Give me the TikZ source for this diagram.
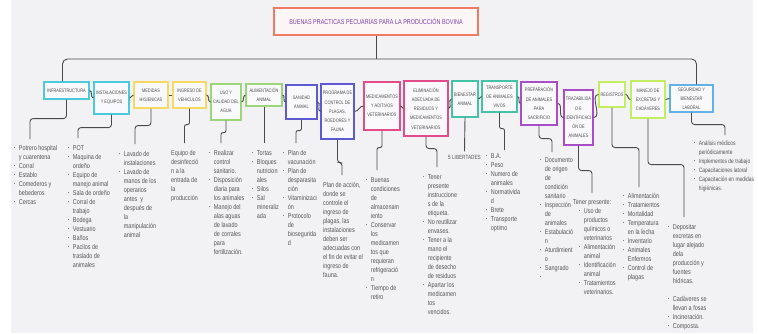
\documentclass[tikz,border=0pt]{standalone}
\usepackage{fontspec}
\setmainfont{Liberation Sans}[FakeStretch=0.78]
\definecolor{bgpanel}{HTML}{F2F2F4}
\definecolor{boxfill}{HTML}{F9F9FB}
\definecolor{titlefill}{HTML}{FCF6F6}
\definecolor{titleline}{HTML}{EE7B62}
\definecolor{titletxt}{HTML}{7E3FB0}
\definecolor{cyanb}{HTML}{4CC9DA}
\definecolor{yellowb}{HTML}{F7D963}
\definecolor{greenb}{HTML}{9BD67A}
\definecolor{blueb}{HTML}{5E5BD2}
\definecolor{pinkb}{HTML}{E24C8A}
\definecolor{tealb}{HTML}{46C2A6}
\definecolor{purpleb}{HTML}{A84FC8}
\definecolor{limeb}{HTML}{C3EE62}
\definecolor{skyb}{HTML}{62B2E8}
\definecolor{boxtxt}{HTML}{4D4D4D}
\definecolor{lsttxt}{HTML}{555555}
\definecolor{linkgray}{HTML}{4A4A4A}
\newcommand{\bu}{\raisebox{0.7pt}{\fontsize{4.5}{5}\selectfont\textbullet}}
\newcommand{\blist}[1]{\begin{tabular}{@{}l@{\hspace{3.5pt}}l@{}}#1\end{tabular}}
\newcommand{\plist}[1]{\begin{tabular}{@{}l@{}}#1\end{tabular}}
\begin{document}
\begin{tikzpicture}[x=1pt, y=-1pt,
  box/.style={draw=#1, line width=1.1pt, fill=boxfill, inner sep=0pt, align=center,
    text=boxtxt, font=\fontsize{5}{9.2}\selectfont},
  lst/.style={anchor=north west, inner sep=0pt, text=lsttxt, font=\fontsize{7}{9}\selectfont},
  link/.style={draw=linkgray, line width=0.9pt, rounded corners=3pt}]
\useasboundingbox (0,0) rectangle (758,333);
\fill[bgpanel] (11,0) rectangle (753,333);

% title and the row of topics
\node[draw=titleline, line width=1.2pt, fill=titlefill, minimum width=204, minimum height=27,
  inner sep=0pt, text=titletxt, font=\fontsize{7}{9}\selectfont] (title) at (376,21.5)
  {BUENAS PRACTICAS PECUARIAS PARA LA PRODUCCIÓN BOVINA};
\coordinate (hub) at (376,59);
\node[box=cyanb, minimum width=45, minimum height=17] (infra) at (66.5,90.5) {INFRAESTRUCTURA};
\node[box=cyanb, minimum width=35, minimum height=32] (instal) at (111.5,98) {INSTALACIONES\\Y EQUIPOS};
\node[box=yellowb, minimum width=34, minimum height=26] (medidas) at (151,95) {MEDIDAS\\HIGIENICAS};
\node[box=yellowb, minimum width=33, minimum height=26] (ingreso) at (189.5,95) {INGRESO DE\\VEHICULOS};
\node[box=greenb, minimum width=30, minimum height=36] (uso) at (226,102) {USO Y\\CALIDAD DEL\\AGUA};
\node[box=greenb, minimum width=36, minimum height=22] (alim) at (264,95) {ALIMENTACIÓN\\ANIMAL};
\node[box=blueb, minimum width=31, minimum height=34] (sanidad) at (301.5,102) {SANIDAD\\ANIMAL};
\node[box=blueb, minimum width=33, minimum height=55] (programa) at (337.5,111.5) {PROGRAMA DE\\CONTROL DE\\PLAGAS,\\ROEDORES Y\\FAUNA};
\node[box=pinkb, minimum width=36, minimum height=48] (medic) at (382,106) {MEDICAMENTOS\\Y ADITIVOS\\VETERINARIOS};
\node[box=pinkb, minimum width=44, minimum height=55] (elim) at (426,108.5) {ELIMINACIÓN\\ADECUADA DE\\RESIDUOS Y\\MEDICAMENTOS\\VETERINARIOS};
\node[box=tealb, minimum width=26, minimum height=36] (bienestar) at (465,99) {BIENESTAR\\ANIMAL};
\node[box=tealb, minimum width=35, minimum height=31] (transp) at (499.5,96.5) {TRANSPORTE\\DE ANIMALES\\VIVOS};
\node[box=purpleb, minimum width=36, minimum height=43] (prep) at (539,103.5) {PREPARACIÓN\\DE ANIMALES\\PARA\\SACRIFICIO};
\node[box=purpleb, minimum width=29, minimum height=55] (traz) at (578.5,117.5) {TRAZABILIDA\\D E\\IDENTIFICACI\\ÓN DE\\ANIMALES};
\node[box=limeb, minimum width=26, minimum height=25] (regis) at (612,94.5) {REGISTROS};
\node[box=limeb, minimum width=34, minimum height=37] (manejo) at (648,99.5) {MANEJO DE\\EXCRETAS Y\\CADÁVERES};
\node[box=skyb, minimum width=43, minimum height=27] (segur) at (691.5,98.5) {SEGURIDAD Y\\BIENESTAR\\LABORAL};

\draw[link] (title.south) -- (hub);
\draw[link, rounded corners=5pt] ([xshift=-4pt]infra.north) |- (hub) -| ([xshift=5pt]segur.north);
\draw[link] (infra.east) to[out=0, in=180] (instal.west);
\draw[link] (instal.east) to[out=0, in=180] (medidas.west);
\draw[link] (medidas.east) to[out=0, in=180] (ingreso.west);
\draw[link] (ingreso.east) to[out=0, in=180] (uso.west);
\draw[link] (uso.east) to[out=0, in=180] (alim.west);
\draw[link] (alim.east) to[out=0, in=180] (sanidad.west);
\draw[link] (sanidad.east) to[out=0, in=180] (programa.west);
\draw[link] (programa.east) to[out=0, in=180] (medic.west);
\draw[link] (medic.east) to[out=0, in=180] (elim.west);
\draw[link] (elim.east) to[out=0, in=180] (bienestar.west);
\draw[link] (bienestar.east) to[out=0, in=180] (transp.west);
\draw[link] (transp.east) to[out=0, in=180] (prep.west);
\draw[link] (prep.east) to[out=0, in=180] (traz.west);
\draw[link] (traz.east) to[out=0, in=180] (regis.west);
\draw[link] (regis.east) to[out=0, in=180] (manejo.west);
\draw[link] (manejo.east) to[out=0, in=180] (segur.west);

% lists under each topic
\node[lst] (la) at (14,144) {\blist{\bu & Potrero hospital\\ & y cuarentena\\ \bu & Corral\\ \bu & Establo\\
  \bu & Comederos y\\ & bebederos\\ \bu & Cercas}};
\node[lst] (lb) at (68,144) {\blist{\bu & POT\\ \bu & Maquina de\\ & ordeño\\ \bu & Equipo de\\ & manejo animal\\
  \bu & Sala de ordeño\\ \bu & Corral de\\ & trabajo\\ \bu & Bodega\\ \bu & Vestuario\\ \bu & Baños\\
  \bu & Pacilos de\\ & traslado de\\ & animales}};
\node[lst] (lc) at (119,150) {\blist{\bu & Lavado de\\ & instalaciones\\ \bu & Lavado de\\ & manos de los\\
  & operarios\\ & antes~ y\\ & después de\\ & la\\ & manipulación\\ & animal}};
\node[lst] (ld) at (171,148.5) {\plist{Equipo de\\ desinfecció\\ n a la\\ entrada de\\ la\\ producción}};
\node[lst] (le) at (209,148.5) {\blist{\bu & Realizar\\ & control\\ & sanitario.\\ \bu & Disposición\\ & diaria para\\
  & los animales\\ \bu & Manejo del\\ & alas aguas\\ & de lavado\\ & de corrales\\ & para\\ & fertilización.}};
\node[lst] (lf) at (252,148.5) {\blist{\bu & Tortas\\ \bu & Bloques\\ & nutricion\\ & ales\\ \bu & Silos\\
  \bu & Sal\\ & mineraliz\\ & ada}};
\node[lst] (lg) at (283,148.5) {\blist{\bu & Plan de\\ & vacunación\\ \bu & Plan de\\ & desparasita\\ & ción\\
  \bu & Vitaminizaci\\ & ón\\ \bu & Protocolo\\ & de\\ & biosegurida\\ & d}};
\node[lst] (lh) at (323,181) {\plist{Plan de acción,\\ donde se\\ controle el\\ ingreso de\\ plagas, las\\
  instalaciones\\ deben ser\\ adecuadas con\\ el fin de evitar el\\ ingreso de\\ fauna.}};
\node[lst] (li) at (366,176) {\blist{\bu & Buenas\\ & condiciones\\ & de\\ & almacenam\\ & iento\\
  \bu & Conservar\\ & los\\ & medicamen\\ & tos que\\ & requieran\\ & refrigeració\\ & n\\
  \bu & Tiempo de\\ & retiro}};
\node[lst] (lj) at (423,173) {\blist{\bu & Tener\\ & presente\\ & instruccione\\ & s de la\\ & etiqueta.\\
  \bu & No reutilizar\\ & envases.\\ \bu & Tener a la\\ & mano el\\ & recipiente\\ & de desecho\\
  & de residuos\\ \bu & Apartar los\\ & medicamen\\ & tos\\ & vencidos.}};
\node[lst, anchor=west, font=\fontsize{6}{8}\selectfont] (lk) at (448,157.7) {5 LIBERTADES};
\node[lst] (ll) at (486,152) {\blist{\bu & B.A.\\ \bu & Peso\\ \bu & Numero de\\ & animales\\
  \bu & Normativida\\ & d\\ \bu & Brete\\ \bu & Transporte\\ & optimo}};
\node[lst] (lm) at (540,156) {\blist{\bu & Documento\\ & de origen\\ & de\\ & condición\\ & sanitario\\
  \bu & Inspección\\ & de\\ & animales\\ \bu & Estabulació\\ & n\\ \bu & Aturdimient\\ & o\\
  \bu & Sangrado\\ \bu & }};
\node[lst] (ln) at (573,198) {\begin{tabular}{@{\hspace{6pt}}l@{\hspace{3.5pt}}l@{}}
  \multicolumn{2}{@{}l@{}}{Tener presente:}\\ \bu & Uso de\\ & productos\\ & químicos o\\ & veterinarios\\
  \bu & Alimentación\\ & animal\\ \bu & Identificación\\ & animal\\ \bu & Tratamientos\\ & veterinarios.
  \end{tabular}};
\node[lst] (lo) at (623,192) {\blist{\bu & Alimentación\\ \bu & Tratamientos\\ \bu & Mortalidad\\
  \bu & Temperatura\\ & en la lecha\\ \bu & Inventario\\ \bu & Animales\\ & Enfermos\\
  \bu & Control de\\ & plagas}};
\node[lst] (lp) at (668,223) {\blist{\bu & Depositar\\ & excretas en\\ & lugar alejado\\ & dela\\
  & producción y\\ & fuentes\\ & hídricas.\\ & \\ \bu & Cadáveres se\\ & llevan a fosas\\
  \bu & Incineración.\\ \bu & Composta.}};
\node[lst, font=\fontsize{6.3}{9}\selectfont] (lq) at (694,139) {\blist{\bu & Análisis médicos\\ & periódicamente\\
  \bu & Implementos de trabajo\\ \bu & Capacitaciones latoral\\ \bu & Capacitación en medidas\\ & higiénicas.}};

\draw[link] (infra.south) -- ++(0,19) -| ([xshift=16pt,yshift=5pt]la.north west);
\draw[link] (instal.south) -- ++(0,13) -| ([xshift=10pt,yshift=6pt]lb.north west);
\draw[link] (medidas.south) -- ++(0,17) -| ([xshift=16pt,yshift=6pt]lc.north west);
\draw[link, rounded corners=2pt] (ingreso.south) -- ++(0,16) -| ([xshift=13.5pt,yshift=5.5pt]ld.north west);
\draw[link, rounded corners=2pt] (uso.south) -- ++(0,12) -| ([xshift=12pt,yshift=5.5pt]le.north west);
\draw[link] (alim.south) -- ([xshift=12pt,yshift=5.5pt]lf.north west);
\draw[link, rounded corners=2pt] (sanidad.south) -- ++(0,11) -| ([xshift=13pt,yshift=5.5pt]lg.north west);
\draw[link] (programa.south) -- ++(0,23) -| ([xshift=19pt,yshift=6pt]lh.north west);
\draw[link, rounded corners=2pt] (medic.south) -- ++(0,17) -| ([xshift=11pt,yshift=6pt]li.north west);
\draw[link] (elim.south) -- ++(0,12) -| ([xshift=14pt,yshift=6pt]lj.north west);
\draw[link] (bienestar.south) -- ([yshift=4pt]lk.north);
\draw[link, rounded corners=2pt] (transp.south) -- ++(0,16) -| ([xshift=18.5pt,yshift=2pt]ll.north west);
\draw[link] (prep.south) -- ++(0,13) -| ([xshift=12pt,yshift=4pt]lm.north west);
\draw[link] (traz.south) -- ++(0,25) -| ([xshift=19pt,yshift=5pt]ln.north west);
\draw[link] (regis.south) -- ++(0,40) -| ([xshift=16pt,yshift=5pt]lo.north west);
\draw[link] (manejo.south) -- ++(0,46) -| ([xshift=16pt,yshift=6pt]lp.north west);
\draw[link] (segur.south) -- ++(0,12) -| ([xshift=31pt,yshift=4pt]lq.north west);
\end{tikzpicture}
\end{document}
